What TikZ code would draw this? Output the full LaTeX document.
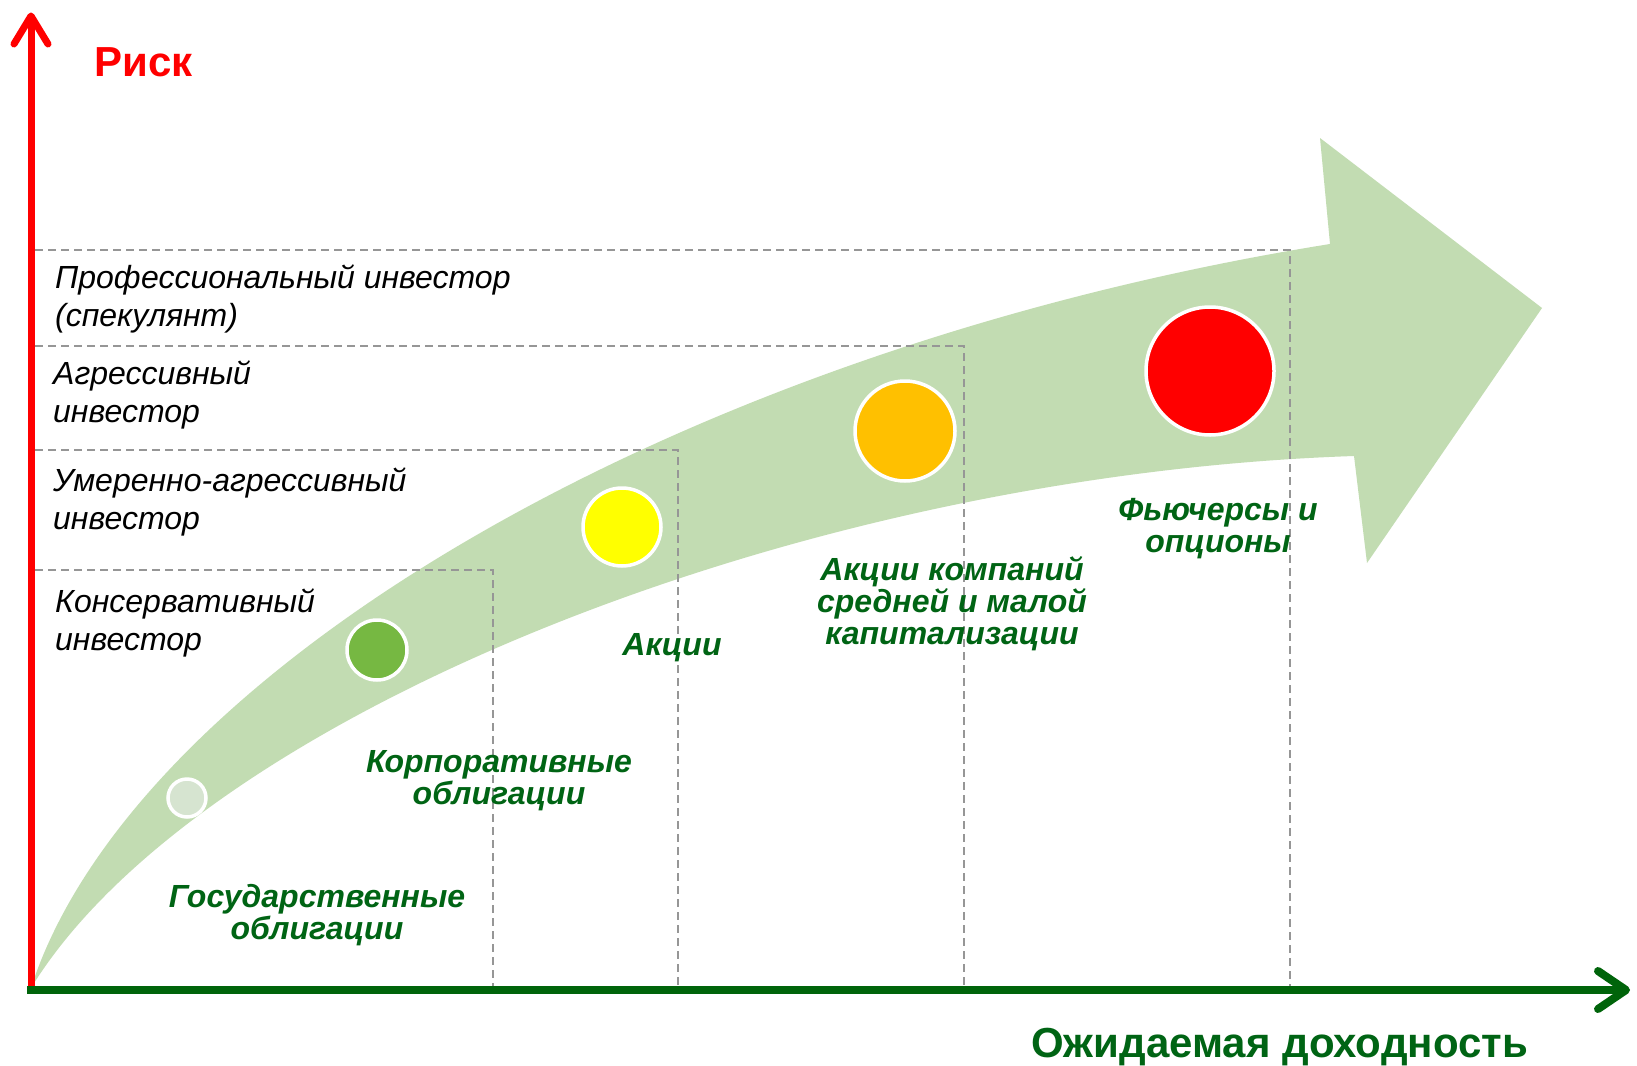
\documentclass[tikz,border=0pt]{standalone}
\usepackage{fontspec}
\setmainfont{Liberation Sans}
\definecolor{bandgreen}{RGB}{194,220,178}
\definecolor{dashgray}{RGB}{150,150,150}
\definecolor{axisgreen}{RGB}{0,100,10}
\definecolor{labelgreen}{RGB}{0,100,20}
\definecolor{axisred}{RGB}{255,0,0}
\definecolor{dotgray}{RGB}{214,228,208}
\definecolor{dotgreen}{RGB}{118,184,66}
\definecolor{dotyellow}{RGB}{255,255,0}
\definecolor{dotorange}{RGB}{255,192,0}
\definecolor{dotred}{RGB}{255,0,0}
\begin{document}
\begin{tikzpicture}[x=1pt,y=-1pt,
  dashline/.style={draw=dashgray, line width=1.3pt, dash pattern=on 8pt off 5pt},
  investor/.style={font=\fontsize{32}{38}\selectfont\itshape, align=left, anchor=base west, text=black, inner sep=0pt},
  asset/.style={font=\fontsize{32}{32}\selectfont\bfseries\itshape, align=center, anchor=base, text=labelgreen, inner sep=0pt},
  dot/.style={circle, draw=white, line width=3.5pt, inner sep=0pt}]
\useasboundingbox[fill=white] (0,0) rectangle (1637,1065);
% big curved arrow
\coordinate (bandstart) at (31,988);
\fill[bandgreen] (bandstart) .. controls (132,675) and (670,350) .. (1330,244)
  -- (1320,138) -- (1542,308) -- (1367,563) -- (1354,456)
  .. controls (790,475) and (195,720) .. (bandstart) -- cycle;
% dashed level lines
\coordinate (d1a) at (35,250); \coordinate (d1b) at (1290,250); \coordinate (d1c) at (1290,988);
\coordinate (d2a) at (35,346); \coordinate (d2b) at (964,346); \coordinate (d2c) at (964,988);
\coordinate (d3a) at (35,450); \coordinate (d3b) at (678,450); \coordinate (d3c) at (678,988);
\coordinate (d4a) at (35,570); \coordinate (d4b) at (493,570); \coordinate (d4c) at (493,988);
\draw[dashline] (d1a) -- (d1b) -- (d1c);
\draw[dashline] (d2a) -- (d2b) -- (d2c);
\draw[dashline] (d3a) -- (d3b) -- (d3c);
\draw[dashline] (d4a) -- (d4b) -- (d4c);
% axes
\coordinate (O) at (31,990);
\coordinate (ytip) at (31,16);
\coordinate (xtip) at (1626,990);
\draw[axisred, line width=7pt] (O) -- (ytip);
\draw[axisred, line width=7pt, line join=round, line cap=round] (14,44) -- (ytip) -- (48,44);
\draw[axisgreen, line width=8pt] (27,990) -- (xtip);
\draw[axisgreen, line width=8pt, line join=round, line cap=round] (1598,971) -- (xtip) -- (1598,1009);
\node[anchor=base west, inner sep=0pt, text=axisred, font=\fontsize{42}{46}\selectfont\bfseries] (risk) at (94,77) {Риск};
\node[anchor=base west, inner sep=0pt, text=labelgreen, font=\fontsize{42}{46}\selectfont\bfseries] (ret) at (1031,1057) {Ожидаемая доходность};
% investor labels (anchor = baseline of last line)
\node[investor] (prof) at (55,326) {Профессиональный инвестор\\(спекулянт)};
\node[investor] (aggr) at (53,422) {Агрессивный\\инвестор};
\node[investor] (modr) at (53,529) {Умеренно-агрессивный\\инвестор};
\node[investor] (cons) at (55,650) {Консервативный\\инвестор};
% circles
\node[dot, fill=dotgray, minimum size=38pt] (c1) at (187,798) {};
\node[dot, fill=dotgreen, minimum size=60pt] (c2) at (377,650) {};
\node[dot, fill=dotyellow, minimum size=78pt] (c3) at (622,527) {};
\node[dot, fill=dotorange, minimum size=100pt] (c4) at (905,431) {};
\node[dot, fill=dotred, minimum size=128pt] (c5) at (1210,371) {};
% asset labels (anchor = baseline of last line)
\node[asset] (gov) at (317,939) {Государственные\\облигации};
\node[asset] (corp) at (499,804) {Корпоративные\\облигации};
\node[asset] (akc) at (672,655) {Акции};
\node[asset] (small) at (952,644) {Акции компаний\\средней и малой\\капитализации};
\node[asset] (fut) at (1218,552) {Фьючерсы и\\опционы};
\end{tikzpicture}
\end{document}
